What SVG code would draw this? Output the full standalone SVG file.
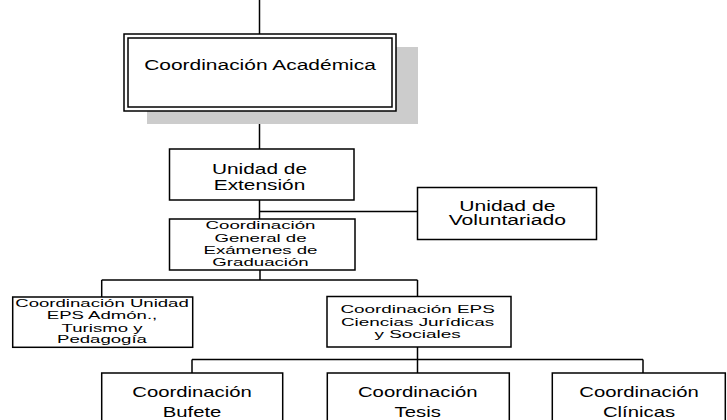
<svg xmlns="http://www.w3.org/2000/svg" width="727" height="420" viewBox="0 0 727 420">
<style>
.bg{fill:#ffffff}
.box{fill:#ffffff;stroke:#000000;stroke-width:1.5}
.shadow{fill:#cccccc;stroke:none}
.conn{fill:none;stroke:#000000;stroke-width:1.5}
text{font-family:"Liberation Sans",Arial,sans-serif;fill:#000000;text-anchor:middle}
</style>
<rect class="bg" x="0" y="0" width="727" height="420"/>
<g id="connectors">
<path class="conn" d="M259.5 0V34"/>
<path class="conn" d="M259.5 111V149"/>
<path class="conn" d="M259.5 200V219"/>
<path class="conn" d="M259.5 211.5H417.5"/>
<path class="conn" d="M260 270V280"/>
<path class="conn" d="M101.7 280H417.5"/>
<path class="conn" d="M101.7 280V297"/>
<path class="conn" d="M417.5 280V296.5"/>
<path class="conn" d="M417.5 347V373" stroke-width="2"/>
<path class="conn" d="M192 359.5H643"/>
<path class="conn" d="M192 359.5V373"/>
<path class="conn" d="M643 359.5V373"/>
</g>
<g id="coord-academica">
<rect class="shadow" x="147" y="47" width="271" height="77"/>
<rect class="box" x="124" y="34" width="272" height="77"/>
<rect class="box" x="128" y="38" width="264" height="69"/>
<g transform="translate(260 0) scale(1.352 1)">
<text x="0" y="70.5" font-size="15.5">Coordinación Académica</text>
</g>
</g>
<g id="unidad-extension">
<rect class="box" x="169.5" y="149" width="184.5" height="51"/>
<g transform="translate(259.5 0) scale(1.49 1)">
<text x="0" y="174.5" font-size="14">Unidad de</text>
<text x="0" y="190" font-size="14">Extensión</text>
</g>
</g>
<g id="unidad-voluntariado">
<rect class="box" x="417.5" y="187.5" width="179" height="52"/>
<g transform="translate(507.3 0) scale(1.507 1)">
<text x="0" y="210.7" font-size="14">Unidad de</text>
<text x="0" y="225.5" font-size="14">Voluntariado</text>
</g>
</g>
<g id="coord-general">
<rect class="box" x="169.5" y="219" width="185.5" height="51"/>
<g transform="translate(260.5 0) scale(1.776 1)">
<text x="0" y="229" font-size="10.5">Coordinación</text>
<text x="0" y="241.7" font-size="10.5">General de</text>
<text x="0" y="254.3" font-size="10.5">Exámenes de</text>
<text x="0" y="265.7" font-size="10.5">Graduación</text>
</g>
</g>
<g id="coord-unidad-eps">
<rect class="box" x="12.7" y="297" width="180" height="50.3"/>
<g transform="translate(102 0) scale(1.69 1)">
<text x="0" y="306.7" font-size="11">Coordinación Unidad</text>
<text x="0" y="319.5" font-size="11">EPS Admón.,</text>
<text x="0" y="332" font-size="11">Turismo y</text>
<text x="0" y="343.5" font-size="11">Pedagogía</text>
</g>
</g>
<g id="coord-eps-ciencias">
<rect class="box" x="327" y="296.5" width="184" height="50.5"/>
<g transform="translate(417.6 0) scale(1.718 1)">
<text x="0" y="313.3" font-size="11">Coordinación EPS</text>
<text x="0" y="326" font-size="11">Ciencias Jurídicas</text>
<text x="0" y="338.3" font-size="11">y Sociales</text>
</g>
</g>
<g id="coord-bufete">
<rect class="box" x="101.7" y="373" width="181" height="70"/>
<g transform="translate(192 0) scale(1.353 1)">
<text x="0" y="396.7" font-size="15">Coordinación</text>
<text x="0" y="416.7" font-size="15">Bufete</text>
</g>
</g>
<g id="coord-tesis">
<rect class="box" x="327.3" y="373" width="182" height="70"/>
<g transform="translate(417.7 0) scale(1.353 1)">
<text x="0" y="396.7" font-size="15">Coordinación</text>
<text x="0" y="416.7" font-size="15">Tesis</text>
</g>
</g>
<g id="coord-clinicas">
<rect class="box" x="552.3" y="373" width="173" height="70"/>
<g transform="translate(639 0) scale(1.353 1)">
<text x="0" y="396.7" font-size="15">Coordinación</text>
<text x="0" y="416.7" font-size="15">Clínicas</text>
</g>
</g>
</svg>
